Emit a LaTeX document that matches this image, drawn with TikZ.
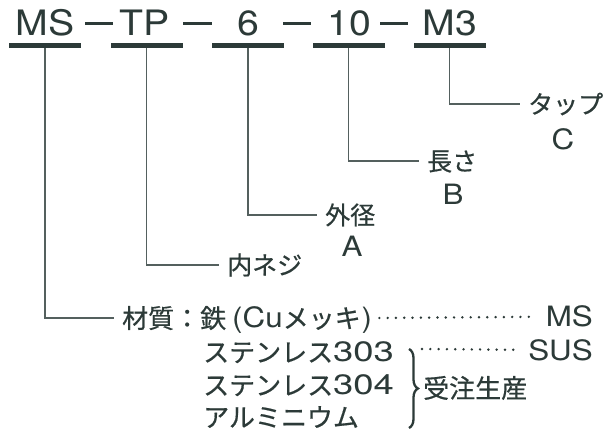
\documentclass[tikz,border=0pt]{standalone}
\usepackage{fontspec}
\usetikzlibrary{decorations.pathreplacing}
\newfontfamily\jpf[FakeBold=0.5]{Noto Sans CJK JP}
\newfontfamily\ltf[FakeStretch=1.12]{TeX Gyre Heros}
\newfontfamily\dgf[FakeStretch=1.3]{TeX Gyre Heros}
\definecolor{ink}{RGB}{44,58,56}
\definecolor{wire}{RGB}{84,96,94}
\begin{document}
\begin{tikzpicture}[x=1pt,y=-1pt,
  code/.style={font=\ltf\fontsize{35}{40}\selectfont, text=ink, inner sep=0pt, anchor=base},
  bar/.style={fill=ink, inner sep=0pt, minimum height=5pt, minimum width=72pt},
  sep/.style={draw=ink, line width=3pt},
  conn/.style={draw=wire, line width=1.3pt, shorten >=8pt},
  jl/.style={font=\jpf\fontsize{25}{30}\selectfont, text=ink, inner sep=0pt, text height=22pt, text depth=3pt, anchor=west},
  ll/.style={font=\ltf\fontsize{28}{32}\selectfont, text=ink, inner sep=0pt, anchor=base},
  jb/.style={font=\jpf\fontsize{26}{30}\selectfont, text=ink, inner sep=0pt, text height=22.9pt, text depth=3.1pt, anchor=west},
  lb/.style={font=\ltf\fontsize{28}{32}\selectfont, text=ink, inner sep=0pt, anchor=base east},
  leader/.style={draw=ink, line width=2.7pt, line cap=round, dash pattern=on 0pt off 8.3pt},
  bracestyle/.style={draw=ink, line width=2.3pt, decorate, decoration={brace, amplitude=9pt}}
]
\useasboundingbox[fill=white] (0,0) rectangle (608,430);

% top code row
\node[code] (tMS) at (45,36) {MS};
\node[code] (tTP) at (145,36) {TP};
\node[code] (t6)  at (248,36) {6};
\node[code] (t10) at (349,36) {10};
\node[code] (tM3) at (450,36) {M3};

\node[bar] (bMS) at (45,45.5) {};
\node[bar] (bTP) at (146.5,45.5) {};
\node[bar] (b6)  at (248,45.5) {};
\node[bar] (b10) at (348.5,45.5) {};
\node[bar] (bM3) at (449.5,45.5) {};

\draw[sep] (85,24) -- (113,24);
\draw[sep] (183,24) -- (212,24);
\draw[sep] (283,24) -- (311,24);
\draw[sep] (380,24) -- (408,24);

% labels
\node[jl] (tap) at (528,104) {タップ};
\node[ll] (tapC) at (563,150) {C};
\node[jl] (len) at (427,161) {長さ};
\node[ll] (lenB) at (453,205) {B};
\node[jl] (od) at (325,215) {外径};
\node[ll] (odA) at (352,257) {A};
\node[jl] (thr) at (227,265) {内ネジ};

% material block
\node[jb] (l1) at (122,318) {材質：鉄\kern6pt{\ltf\fontsize{28}{32}\selectfont (Cu}メッキ{\ltf\fontsize{28}{32}\selectfont\kern1pt )}};
\node[lb] (ms1) at (593,327) {MS};
\node[jb] (l2) at (203,352) {ステンレス{\dgf\fontsize{28}{32}\selectfont 303}};
\node[lb] (sus) at (593,360) {SUS};
\node[jb] (l3) at (203,385) {ステンレス{\dgf\fontsize{28}{32}\selectfont 304}};
\node[jb] (l4) at (203,417) {アルミニウム};
\node[jb] (ord) at (423,388) {受注生産};

\coordinate (bt) at (409,349);
\coordinate (bb) at (409,428);
\draw[bracestyle] (bt) -- (bb);

\draw[leader] ([xshift=7pt]l1.east) -- ([xshift=-10pt]ms1.west);
\draw[leader] ([xshift=13pt]bt) -- ([xshift=-12pt]sus.west);

% connectors
\draw[conn] (bM3.south) |- (tap.west);
\draw[conn] (b10.south) |- (len.west);
\draw[conn] (b6.south) |- (od.west);
\draw[conn] (bTP.south) |- (thr.west);
\draw[conn] (bMS.south) |- (l1.west);
\end{tikzpicture}
\end{document}
